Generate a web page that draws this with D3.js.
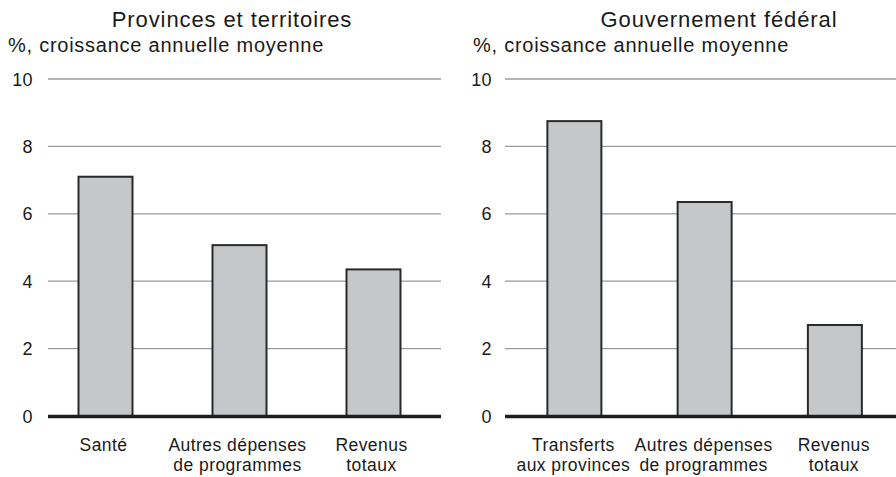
<!DOCTYPE html>
<html>
<head>
<meta charset="utf-8">
<script src="https://cdn.jsdelivr.net/npm/d3@7"></script>
<style>
  html, body { margin: 0; padding: 0; background: #fff; }
  svg { display: block; }
  text { font-family: "Liberation Sans", Arial, Helvetica, sans-serif; fill: #1a1a1a; }
</style>
</head>
<body>
<svg id="chart" width="896" height="477"></svg>
<script>
const panelTitles = ["Provinces et territoires", "Gouvernement fédéral"];
const yAxisTitle = "%, croissance annuelle moyenne";
const yTicks = [0, 2, 4, 6, 8, 10];

const leftCategories = ["Santé", "Autres dépenses\nde programmes", "Revenus\ntotaux"];
const leftValues = [7.1, 5.07, 4.35];

const rightCategories = ["Transferts\naux provinces", "Autres dépenses\nde programmes", "Revenus\ntotaux"];
const rightValues = [8.75, 6.35, 2.7];

const svg = d3.select("#chart");

const y = d3.scaleLinear().domain([0, 10]).range([416, 79]);

const panels = [
  { title: panelTitles[0], titleX: 232, subX: 8, labelX: 33, gridX0: 48, gridX1: 441,
    band: [38.5, 440.5], step: 134, labShift: -2, cats: leftCategories, vals: leftValues },
  { title: panelTitles[1], titleX: 719, subX: 473, labelX: 492, gridX0: 505, gridX1: 896,
    band: [509.25, 900], step: 130.25, labShift: -1, cats: rightCategories, vals: rightValues }
];

const barW = 54;

panels.forEach(p => {
  const g = svg.append("g");
  const x = d3.scaleBand()
    .domain(p.cats)
    .range(p.band)
    .paddingInner(1 - barW / p.step)
    .paddingOuter((1 - barW / p.step) / 2);

  // Title
  g.append("text")
    .attr("x", p.titleX).attr("y", 27)
    .attr("text-anchor", "middle")
    .style("font-size", "22px")
    .style("letter-spacing", "0.9px")
    .text(p.title);

  // Subtitle
  g.append("text")
    .attr("x", p.subX).attr("y", 52)
    .style("font-size", "20px")
    .style("letter-spacing", "0.75px")
    .text(yAxisTitle);

  // Gridlines (non-zero)
  g.selectAll("line.grid")
    .data(yTicks.filter(t => t !== 0))
    .join("line")
    .attr("class", "grid")
    .attr("x1", p.gridX0).attr("x2", p.gridX1)
    .attr("y1", d => y(d)).attr("y2", d => y(d))
    .attr("stroke", "#9a9a9a").attr("stroke-width", 1.3);

  // Tick labels
  g.selectAll("text.tick")
    .data(yTicks)
    .join("text")
    .attr("class", "tick")
    .attr("x", p.labelX).attr("y", d => y(d) + 6.5)
    .attr("text-anchor", "end")
    .style("font-size", "18px")
    .style("letter-spacing", "0.4px")
    .text(d => d);

  // Bars
  g.selectAll("rect.bar")
    .data(p.cats.map((c, i) => ({ c, v: p.vals[i] })))
    .join("rect")
    .attr("class", "bar")
    .attr("x", d => x(d.c))
    .attr("width", x.bandwidth())
    .attr("y", d => y(d.v))
    .attr("height", d => y(0) - y(d.v))
    .attr("fill", "#c6c7c8")
    .attr("stroke", "#2a2a2a")
    .attr("stroke-width", 2);

  // Zero line
  g.append("line")
    .attr("x1", p.gridX0).attr("x2", p.gridX1)
    .attr("y1", y(0) + 0.5).attr("y2", y(0) + 0.5)
    .attr("stroke", "#1e1e1e").attr("stroke-width", 3.5);

  // Category labels
  const lab = g.selectAll("text.cat")
    .data(p.cats)
    .join("text")
    .attr("class", "cat")
    .attr("text-anchor", "middle")
    .style("font-size", "17.5px")
    .style("letter-spacing", "0.45px")
    .attr("transform", d => `translate(${x(d) + x.bandwidth() / 2 + p.labShift},0)`);
  lab.selectAll("tspan")
    .data(d => d.split("\n"))
    .join("tspan")
    .attr("x", 0)
    .attr("y", (d, i) => 450.5 + i * 20)
    .text(d => d);
});
</script>
</body>
</html>
